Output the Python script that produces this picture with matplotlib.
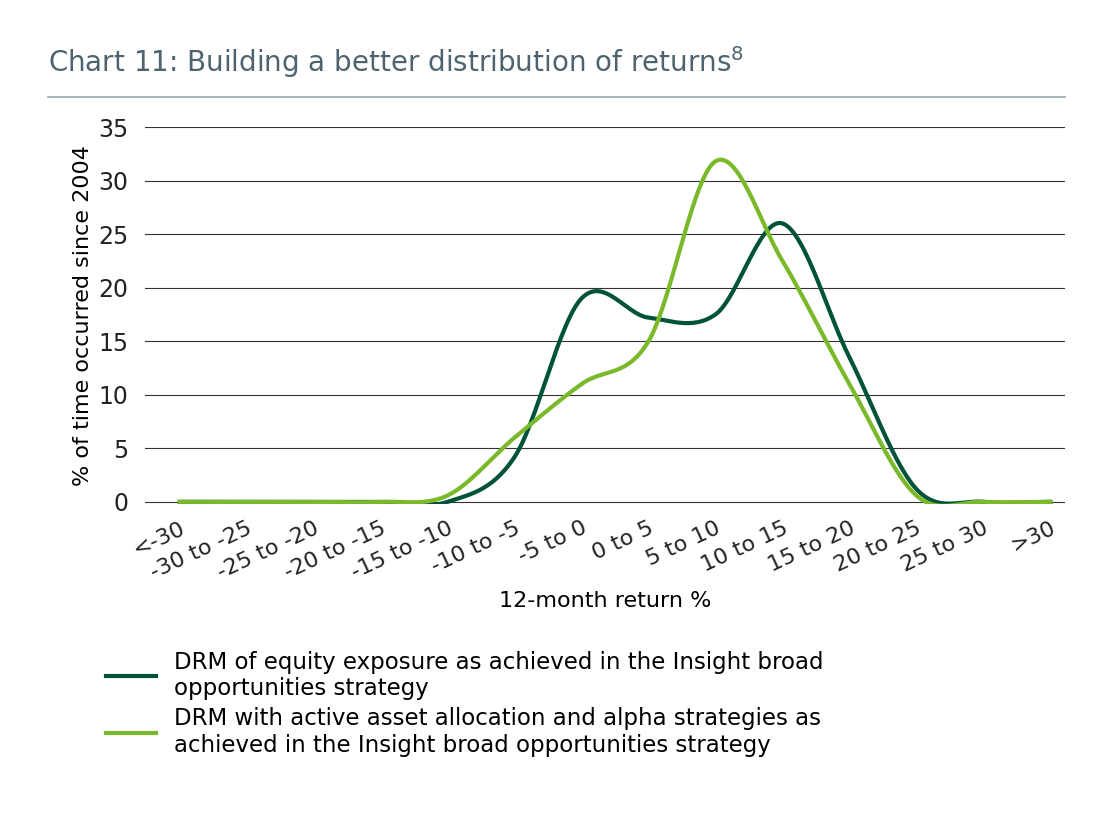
import numpy as np
import matplotlib.pyplot as plt

categories = ["<-30", "-30 to -25", "-25 to -20", "-20 to -15", "-15 to -10", "-10 to -5",
              "-5 to 0", "0 to 5", "5 to 10", "10 to 15", "15 to 20", "20 to 25", "25 to 30", ">30"]
drm_equity = [0, 0, 0, 0, 0, 4.2, 19.0, 17.2, 17.5, 26.0, 13.5, 1.2, 0, 0]
drm_active = [0, 0, 0, 0, 0.6, 6.0, 11.0, 15.0, 31.8, 22.5, 11.0, 0.6, 0, 0]
dark = "#00533a"; light = "#7ab929"


def smooth(y, n=30):
    # Catmull-Rom style smoothing, like the spreadsheet's smoothed line
    y = np.asarray(y, float)
    p = np.concatenate([[y[0]], y, [y[-1]]])
    xs, ys = [], []
    for i in range(len(y) - 1):
        p0, p1, p2, p3 = p[i], p[i + 1], p[i + 2], p[i + 3]
        t = np.linspace(0, 1, n, endpoint=False)
        v = 0.5 * ((2 * p1) + (-p0 + p2) * t + (2 * p0 - 5 * p1 + 4 * p2 - p3) * t**2
                   + (-p0 + 3 * p1 - 3 * p2 + p3) * t**3)
        xs.append(i + t); ys.append(v)
    xs.append([len(y) - 1]); ys.append([y[-1]])
    return np.concatenate(xs), np.concatenate(ys)


fig = plt.figure(figsize=(11.19, 8.13), dpi=100)
fig.text(48/1119, 1 - 62/813, "Chart 11: Building a better distribution of returns$^8$",
         fontsize=20, color="#4d6470", va="center")
fig.add_artist(plt.Line2D([48/1119, 1065/1119], [1 - 97/813] * 2, color="#9aa5ab", lw=1.2))

ax = fig.add_axes([145/1119, 1 - 504/813, 920/1119, 377/813])
x = np.arange(len(categories))
for data, c in [(drm_equity, dark), (drm_active, light)]:
    sx, sy = smooth(data)
    ax.plot(sx, sy, color=c, lw=3)
ax.set_xlim(-0.52, 13.22)
ax.set_ylim(-0.2, 35)
ax.set_yticks(range(0, 36, 5))
ax.yaxis.grid(True, color="#333333", lw=0.8)
ax.set_axisbelow(True)
for s in ax.spines.values():
    s.set_visible(False)
ax.tick_params(length=0, labelsize=17, colors="#222222")
ax.set_xticks(x)
ax.set_xticklabels(categories, rotation=25, ha="right", rotation_mode="anchor")
ax.tick_params(axis="x", labelsize=16, pad=10)
ax.tick_params(axis="y", pad=12)
ax.set_xlabel("12-month return %", fontsize=16, labelpad=6)
ax.set_ylabel("% of time occurred since 2004", fontsize=16)

fig.legend(handles=[plt.Line2D([], [], color=dark, lw=3), plt.Line2D([], [], color=light, lw=3)],
           labels=["DRM of equity exposure as achieved in the Insight broad\nopportunities strategy",
                   "DRM with active asset allocation and alpha strategies as\nachieved in the Insight broad opportunities strategy"],
           loc="upper left", bbox_to_anchor=(85/1119, 1 - 630/813), frameon=False,
           fontsize=16.5, handlelength=2.2, labelspacing=0.3)
fig.savefig("out.png", dpi=100)
